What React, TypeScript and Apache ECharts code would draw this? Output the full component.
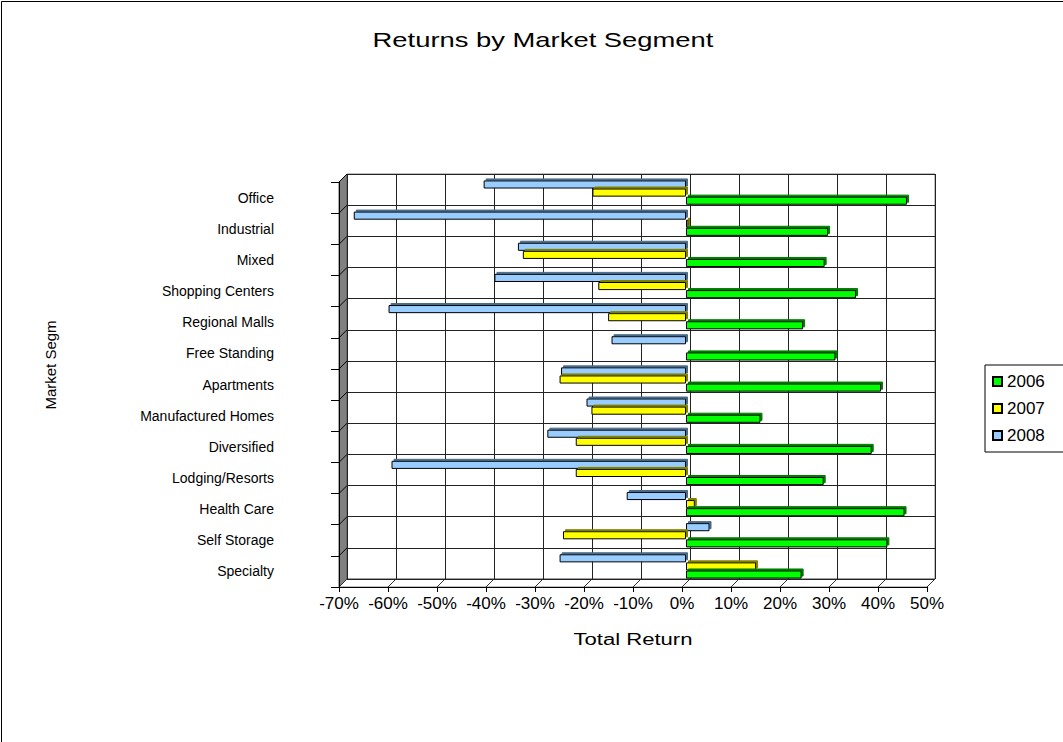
import React, { useEffect, useRef } from "react";
import * as echarts from "echarts";

const categories = [
  "Office",
  "Industrial",
  "Mixed",
  "Shopping Centers",
  "Regional Malls",
  "Free Standing",
  "Apartments",
  "Manufactured Homes",
  "Diversified",
  "Lodging/Resorts",
  "Health Care",
  "Self Storage",
  "Specialty",
];
const values2006 = [45.1, 29.0, 28.3, 34.7, 23.9, 30.5, 39.8, 15.2, 37.9, 28.1, 44.6, 41.1, 23.6];
const values2007 = [-19.1, 0.5, -33.3, -17.9, -15.9, 0, -25.8, -19.3, -22.5, -22.5, 1.8, -25.1, 14.3];
const values2008 = [-41.3, -67.8, -34.3, -39.1, -60.7, -15.2, -25.5, -20.3, -28.3, -60.1, -12.1, 4.8, -25.8];
const seriesNames = ["2006", "2007", "2008"];
const xMin = -70;
const xMax = 50;
const xStep = 10;

const FONT = "'Liberation Sans', Arial, Helvetica, sans-serif";
const W = 1063;
const H = 742;
const BACK = { l: 347, t: 174, r: 935, b: 579 };
const D = 8;

export default function App() {
  const ref = useRef<HTMLDivElement>(null);
  useEffect(() => {
    const chart = echarts.init(ref.current!, null, { renderer: "svg", width: W, height: H });
    const cats = [...categories].reverse();
    const rev = (a: number[]) => [...a].reverse();
    const fl = BACK.l - D;
    const fr = BACK.r - D;
    const ft = BACK.t + D;
    const fb = BACK.b + D;
    const unit = (BACK.r - BACK.l) / (xMax - xMin);
    const rowH = (BACK.b - BACK.t) / categories.length;

    const g: any[] = [];
    g.push({
      type: "rect",
      silent: true,
      shape: { x: 1.5, y: 1.5, width: W + 20, height: H + 20 },
      style: { fill: "none", stroke: "#000", lineWidth: 1 },
    });
    g.push({
      type: "polygon",
      silent: true,
      shape: { points: [[fl, ft], [BACK.l, BACK.t], [BACK.l, BACK.b], [fl, fb]] },
      style: { fill: "#808080", stroke: "#555", lineWidth: 1 },
    });
    for (let i = 0; i <= categories.length; i++) {
      const y = BACK.t + i * rowH;
      g.push({
        type: "line",
        silent: true,
        shape: { x1: fl, y1: y + D, x2: BACK.l, y2: y },
        style: { stroke: "#000", lineWidth: 1 },
      });
    }
    g.push({
      type: "polygon",
      silent: true,
      shape: { points: [[fl, fb], [BACK.l, BACK.b], [BACK.r, BACK.b], [fr, fb]] },
      style: { fill: "#fff", stroke: "#808080", lineWidth: 1 },
    });
    for (let v = xMin; v <= xMax; v += xStep) {
      const x = BACK.l + (v - xMin) * unit;
      g.push({
        type: "line",
        silent: true,
        shape: { x1: x - D, y1: fb, x2: x, y2: BACK.b },
        style: { stroke: "#333", lineWidth: 1 },
      });
    }
    g.push({
      type: "text",
      x: 543,
      y: 40,
      scaleX: 1.37,
      style: {
        text: "Returns by Market Segment",
        fontSize: 20,
        fontFamily: FONT,
        fill: "#000",
        align: "center",
        verticalAlign: "middle",
        textAlign: "center",
        textVerticalAlign: "middle",
      },
    });
    g.push({
      type: "text",
      x: 633,
      y: 640,
      scaleX: 1.38,
      style: {
        text: "Total Return",
        fontSize: 16,
        fontFamily: FONT,
        fill: "#000",
        align: "center",
        verticalAlign: "middle",
        textAlign: "center",
        textVerticalAlign: "middle",
      },
    });
    g.push({
      type: "text",
      x: 50,
      y: 365,
      rotation: Math.PI / 2,
      style: {
        text: "Market Segm",
        fontSize: 15,
        fontFamily: FONT,
        fill: "#000",
        align: "center",
        verticalAlign: "middle",
        textAlign: "center",
        textVerticalAlign: "middle",
      },
    });

    const mkSeries = (name: string, data: number[], color: string, shadow: string) => ({
      name,
      type: "bar",
      xAxisIndex: 1,
      yAxisIndex: 1,
      data: rev(data),
      barGap: "0%",
      barCategoryGap: "22%",
      itemStyle: {
        color,
        borderColor: "#000",
        borderWidth: 1,
        shadowColor: shadow,
        shadowOffsetX: 2,
        shadowOffsetY: -2,
        shadowBlur: 0,
      },
    });

    chart.setOption({
      animation: false,
      backgroundColor: "#fff",
      textStyle: { fontFamily: FONT },
      grid: [
        { left: BACK.l, top: BACK.t, right: W - BACK.r, bottom: H - BACK.b, show: true, borderColor: "#808080", borderWidth: 1, backgroundColor: "#fff" },
        { left: BACK.l - 4, top: BACK.t + 3, right: W - BACK.r + 4, bottom: H - BACK.b - 3 },
        { left: fl, top: ft, right: W - fr, bottom: H - fb },
      ],
      xAxis: [
        {
          type: "value", gridIndex: 0, min: xMin, max: xMax, interval: xStep,
          axisLine: { show: false }, axisTick: { show: false }, axisLabel: { show: false },
          splitLine: { show: true, lineStyle: { color: "#222", width: 1 } },
        },
        {
          type: "value", gridIndex: 1, min: xMin, max: xMax, interval: xStep, show: false,
          splitLine: { show: false },
        },
        {
          type: "value", gridIndex: 2, min: xMin, max: xMax, interval: xStep,
          axisLine: { show: true, onZero: false, lineStyle: { color: "#000", width: 1 } },
          axisTick: { show: true, length: 5, lineStyle: { color: "#000" } },
          splitLine: { show: false },
          axisLabel: { formatter: "{value}%", fontSize: 17, color: "#000", margin: 8, fontFamily: FONT },
        },
      ],
      yAxis: [
        {
          type: "category", gridIndex: 0, data: cats,
          axisLine: { show: false }, axisTick: { show: false }, axisLabel: { show: false },
          splitLine: { show: true, interval: 0, lineStyle: { color: "#222", width: 1 } },
        },
        { type: "category", gridIndex: 1, data: cats, show: false },
        {
          type: "category", gridIndex: 2, data: cats,
          axisLine: { show: true, onZero: false, lineStyle: { color: "#000", width: 1 } },
          axisTick: { show: true, length: 8, interval: 0, lineStyle: { color: "#000" } },
          splitLine: { show: false },
          axisLabel: { fontSize: 14, color: "#000", margin: 65, interval: 0, fontFamily: FONT },
        },
      ],
      legend: {
        data: seriesNames,
        orient: "vertical",
        left: 985,
        top: 365,
        icon: "rect",
        itemWidth: 9,
        itemHeight: 9,
        itemGap: 10,
        borderColor: "#000",
        borderWidth: 1,
        padding: [8, 40, 8, 7],
        textStyle: { fontSize: 17, color: "#000", fontFamily: FONT },
      },
      graphic: g,
      series: [
        mkSeries(seriesNames[2], values2008, "#99CCFF", "#4a6a88"),
        mkSeries(seriesNames[1], values2007, "#FFFF00", "#808000"),
        mkSeries(seriesNames[0], values2006, "#00FF00", "#007a00"),
      ],
    });
    return () => chart.dispose();
  }, []);
  return <div ref={ref} style={{ position: "absolute", left: 0, top: 0, width: W, height: H }} />;
}
